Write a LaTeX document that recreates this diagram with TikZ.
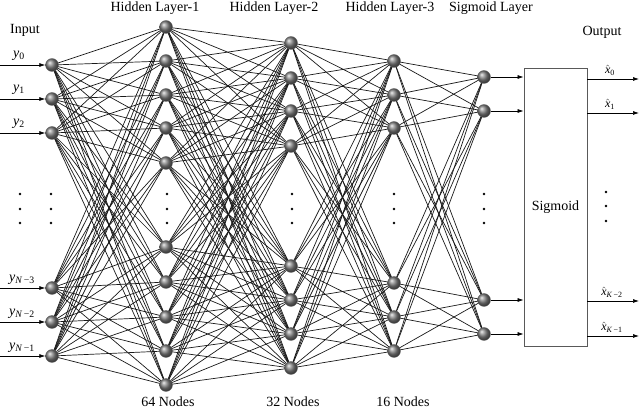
\documentclass[tikz,border=0pt]{standalone}
\usepackage{fontspec}
\setmainfont{Liberation Serif}
\usetikzlibrary{arrows.meta,backgrounds,shadings}
\tikzset{
  neuron/.style={circle,inner sep=0pt,minimum size=13pt,shading=ball,ball color=black!50,draw=black!60,line width=0.3pt},
  edge/.style={line width=0.7pt,draw=black!90},
  arr/.style={line width=0.7pt,-{Latex[length=6pt,width=4pt]}},
  txt/.style={inner sep=0pt,font=\fontsize{14}{16}\selectfont},
  lab/.style={inner sep=0pt,font=\fontsize{14}{16}\selectfont},
  olab/.style={inner sep=0pt,font=\fontsize{12}{14}\selectfont},
  sbox/.style={draw=gray!70!black,line width=0.8pt,minimum width=63pt,minimum height=278pt,inner sep=0pt,font=\fontsize{14}{16}\selectfont}
}
\begin{document}
\begin{tikzpicture}[x=1pt,y=-1pt]
\useasboundingbox (0,0) rectangle (640,411);
% layers
\foreach \y [count=\k] in {65,99,133,288,322,356} \node[neuron] (i\k) at (52,\y) {};
\foreach \y [count=\k] in {27,61,95,128,163,247,282,317,351,385} \node[neuron] (a\k) at (166,\y) {};
\foreach \y [count=\k] in {43,78,111,146,266,300,334,368} \node[neuron] (b\k) at (291,\y) {};
\foreach \y [count=\k] in {61,95,128,283,317,351} \node[neuron] (c\k) at (394,\y) {};
\foreach \y [count=\k] in {77,111,300,334} \node[neuron] (s\k) at (484,\y) {};
% connections
\begin{scope}[on background layer]
\foreach \p in {1,...,6} \foreach \q in {1,...,10} \draw[edge] (i\p.center) -- (a\q.center);
\foreach \p in {1,...,10} \foreach \q in {1,...,8} \draw[edge] (a\p.center) -- (b\q.center);
\foreach \p in {1,...,8} \foreach \q in {1,...,6} \draw[edge] (b\p.center) -- (c\q.center);
\foreach \p in {1,...,6} \foreach \q in {1,...,4} \draw[edge] (c\p.center) -- (s\q.center);
\end{scope}
% dots
\foreach \x in {20,51,167,292,394,484} \foreach \y in {194,209,223} \fill (\x,\y) circle (1.3);
\foreach \y in {192,206,221} \fill (606,\y) circle (1.3);
% input arrows
\foreach \y [count=\k] in {65,99,133,288,322,356} {
  \coordinate (inw\k) at (0,\y);
  \draw[arr] (inw\k) -- (i\k);
}
\node[lab] (ly1) at (19,56) {\textit{y}\textsubscript{0}};
\node[lab] (ly2) at (19,90) {\textit{y}\textsubscript{1}};
\node[lab] (ly3) at (19,124) {\textit{y}\textsubscript{2}};
\node[lab] (ly4) at (22,280) {\textit{y}\textsubscript{\textit{N}\,−3}};
\node[lab] (ly5) at (22,314) {\textit{y}\textsubscript{\textit{N}\,−2}};
\node[lab] (ly6) at (22,348) {\textit{y}\textsubscript{\textit{N}\,−1}};
% sigmoid box
\node[sbox] (box) at (555.5,207) {Sigmoid};
\foreach \k in {1,...,4} \draw[arr] (s\k) -- (s\k -| box.west);
\foreach \y [count=\k] in {79,113,301,336} {
  \coordinate (out\k) at (639,\y);
  \draw[arr] (box.east |- out\k) -- (out\k);
}
\node[olab] (lx1) at (610,70) {$\hat{\textit{x}}$\textsubscript{0}};
\node[olab] (lx2) at (610,104) {$\hat{\textit{x}}$\textsubscript{1}};
\node[olab] (lx3) at (612,292) {$\hat{\textit{x}}$\textsubscript{\textit{K}\,−2}};
\node[olab] (lx4) at (612,327) {$\hat{\textit{x}}$\textsubscript{\textit{K}\,−1}};
% titles
\node[txt] (tin) at (25,30) {Input};
\node[txt] (th1) at (155,8) {Hidden Layer-1};
\node[txt] (th2) at (274,8) {Hidden Layer-2};
\node[txt] (th3) at (390,8) {Hidden Layer-3};
\node[txt] (tsg) at (491,8) {Sigmoid Layer};
\node[txt] (tout) at (602,32) {Output};
\node[txt] (n1) at (168,402) {64 Nodes};
\node[txt] (n2) at (293,402) {32 Nodes};
\node[txt] (n3) at (403,402) {16 Nodes};
\end{tikzpicture}
\end{document}
